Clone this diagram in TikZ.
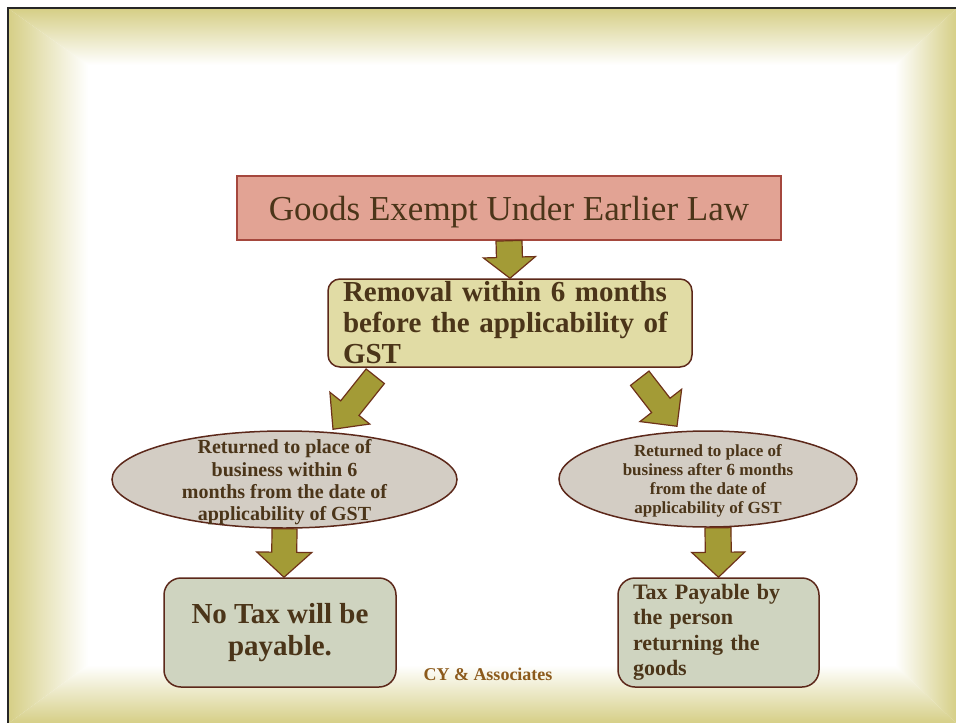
\documentclass[tikz,border=0pt]{standalone}
\usepackage{fontspec}
\setmainfont{Liberation Serif}
\usetikzlibrary{shapes.geometric,calc}
\definecolor{frameY}{RGB}{214,207,135}
\definecolor{txt}{RGB}{75,53,25}
\definecolor{topfill}{RGB}{226,163,148}
\definecolor{topdraw}{RGB}{165,71,61}
\definecolor{remfill}{RGB}{225,220,165}
\definecolor{brd}{RGB}{92,40,26}
\definecolor{ellfill}{RGB}{211,205,196}
\definecolor{boxfill}{RGB}{207,212,192}
\definecolor{arrfill}{RGB}{163,155,54}
\definecolor{arrdraw}{RGB}{110,50,25}
\definecolor{cyc}{RGB}{140,90,28}
% start, tip, shaft half width, head half width, head length
\newcommand\blockarrow[5]{%
  \path (#1) coordinate (baS) (#2) coordinate (baT);
  \path ($(baT)!#5!(baS)$) coordinate (baH);
  \draw[barrow] ($(baS)!#3!90:(baT)$) -- ($(baH)!#3!90:(baT)$) -- ($(baH)!#4!90:(baT)$) -- (baT)
     -- ($(baH)!#4!-90:(baT)$) -- ($(baH)!#3!-90:(baT)$) -- ($(baS)!#3!-90:(baT)$) -- cycle;}
\begin{document}
\begin{tikzpicture}[x=1pt,y=-1pt,
  barrow/.style={fill=arrfill,draw=arrdraw,line width=1.2pt,line join=miter},
  topbox/.style={draw=topdraw,fill=topfill,line width=1.5pt,minimum width=544pt,minimum height=64pt,
     inner sep=0pt,text=txt,text height=24pt,text depth=0pt,font=\fontsize{35}{40}\selectfont},
  rembox/.style={rounded corners=12pt,draw=brd,fill=remfill,line width=1.5pt,minimum width=364pt,
     minimum height=88pt,text width=334pt,inner xsep=15pt,inner ysep=0pt,align=left,text=txt,
     font=\bfseries\fontsize{29}{31}\selectfont},
  ell/.style={ellipse,draw=brd,fill=ellfill,line width=1.5pt,inner sep=0pt},
  elltext/.style={align=center,text=txt,inner sep=0pt},
  resbox/.style={rounded corners=17pt,draw=brd,fill=boxfill,line width=1.5pt,minimum height=109pt,
     inner ysep=0pt,text=txt}]
\useasboundingbox (0,0) rectangle (956,723);
\fill[white] (0,0) rectangle (956,723);
% frame gradient
\shade[left color=frameY,right color=white] (9,9) -- (88,65) -- (88,665) -- (9,723) -- cycle;
\shade[top color=frameY,bottom color=white] (9,9) -- (956,9) -- (895,65) -- (88,65) -- cycle;
\shade[left color=white,right color=frameY] (956,9) -- (956,723) -- (895,665) -- (895,65) -- cycle;
\shade[top color=white,bottom color=frameY] (9,723) -- (956,723) -- (895,665) -- (88,665) -- cycle;
\draw[line width=2.5pt,black!85] (8,723) -- (8,8) -- (956,8);
% nodes
\node[topbox] (top) at (509,208) {Goods Exempt Under Earlier Law};
\node[rembox] (rem) at (510,323) {Removal within 6 months\\before the applicability of\\GST};
\node[ell,minimum width=345pt,minimum height=97pt] (le) at (284.5,479.5) {};
\node[elltext,font=\bfseries\fontsize{20}{22.3}\selectfont] (let) at ($(le.center)+(0,3)$)
  {Returned to place of\\business within 6\\months from the date of\\applicability of GST};
\node[ell,minimum width=298pt,minimum height=96pt] (re) at (708,479) {};
\node[elltext,font=\bfseries\fontsize{17}{18.8}\selectfont] (ret) at ($(re.center)+(0,2)$)
  {Returned to place of\\business after 6 months\\from the date of\\applicability of GST};
\node[resbox,minimum width=232pt,align=center,font=\bfseries\fontsize{29}{32}\selectfont] (nl) at (280,632.5)
  {No Tax will be\\payable.};
\node[resbox,minimum width=201pt,text width=171pt,inner xsep=15pt,align=left,
  font=\bfseries\fontsize{22}{25.5}\selectfont] (tp) at (718.5,632.5)
  {Tax Payable by\\the person\\returning the\\goods};
\node[font=\bfseries\fontsize{18}{20}\selectfont,text=cyc,inner sep=0pt] (cy) at (488,674) {CY \& Associates};
% arrows
\blockarrow{top.south}{rem.north}{13pt}{26pt}{21pt}
\coordinate (a1s) at ($(rem.south west)+(48,8.5)$);
\coordinate (a1t) at ($(le.north)+(48.5,-1)$);
\blockarrow{a1s}{a1t}{11.7pt}{25.5pt}{27pt}
\coordinate (a2s) at ($(rem.south east)+(-53,10.5)$);
\coordinate (a2t) at ($(re.north)+(-31,-4)$);
\blockarrow{a2s}{a2t}{11.7pt}{26.4pt}{26.4pt}
\coordinate (a3t) at ($(nl.north)+(4,0)$);
\blockarrow{le.south}{a3t}{12.5pt}{27.5pt}{25pt}
\coordinate (a4s) at ($(re.south)+(10,0)$);
\blockarrow{a4s}{tp.north}{13pt}{26.5pt}{25pt}
\end{tikzpicture}
\end{document}
